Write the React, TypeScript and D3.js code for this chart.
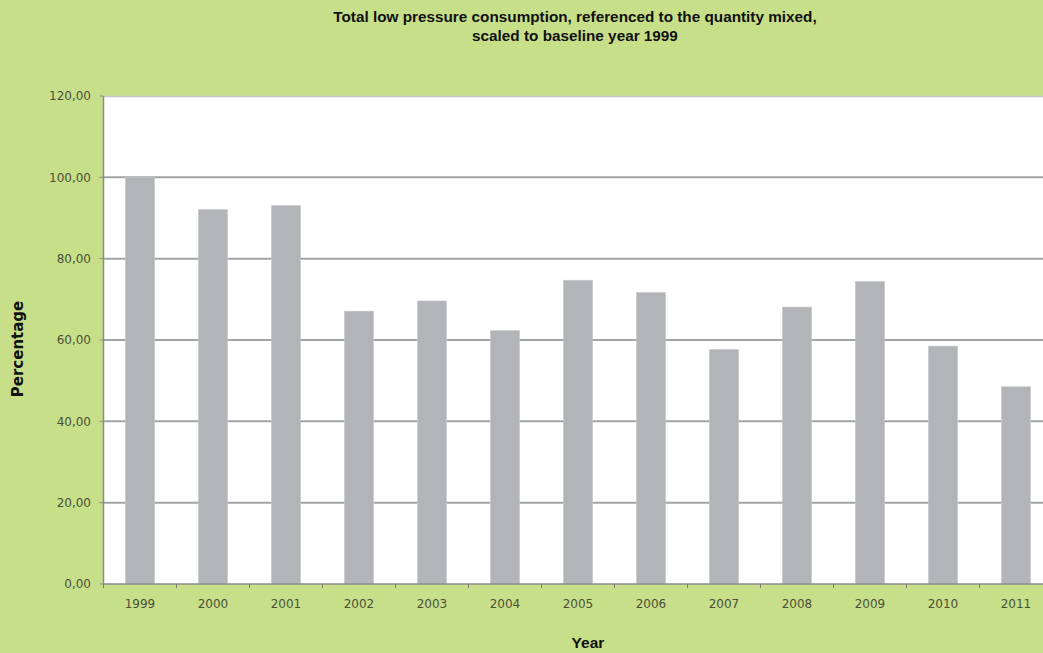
import React from "react";
import * as d3 from "d3";

// Years on the category axis
const years: string[] = [
  "1999", "2000", "2001", "2002", "2003", "2004", "2005",
  "2006", "2007", "2008", "2009", "2010", "2011",
];

// Consumption relative to 1999 (percent)
const percentages: number[] = [
  100.0, 92.1, 93.1, 67.1, 69.6, 62.3, 74.7,
  71.7, 57.7, 68.1, 74.4, 58.5, 48.5,
];

// Value-axis ticks
const yTicks: number[] = [0, 20, 40, 60, 80, 100, 120];

const titleLines: string[] = [
  "Total low pressure consumption, referenced to the quantity mixed,",
  "scaled to baseline year 1999",
];

const W = 1043;
const H = 653;
const BG = "#c8df8a";
const BAR = "#b3b4b8";
const GRID = "#a3a4a6";
const LABEL = "#4b5038";

const left = 103.5;
const top = 96;
const bottom = 584;
const step = 73;
const right = left + step * years.length;

const fmt = (v: number) => v.toFixed(2).replace(".", ",");

export default function App() {
  const x = d3
    .scaleBand<string>()
    .domain(years)
    .range([left, right])
    .paddingInner(0.6)
    .paddingOuter(0.3);
  const y = d3.scaleLinear().domain([0, 120]).range([bottom, top]);
  const font = "'DejaVu Sans', sans-serif";
  const boldFont = "'Liberation Sans', Arial, sans-serif";

  return (
    <svg
      width={W}
      height={H}
      style={{ position: "absolute", left: 0, top: 0, display: "block" }}
    >
      <rect x={0} y={0} width={W} height={H} fill={BG} />
      {/* plot area */}
      <rect x={left} y={top} width={right - left} height={bottom - top} fill="#ffffff" />
      <line x1={left} x2={right} y1={top + 0.5} y2={top + 0.5} stroke="#c4c5c7" strokeWidth={1.5} />

      {/* gridlines */}
      {yTicks
        .filter((t) => t > 0 && t < 120)
        .map((t) => (
          <line
            key={"g" + t}
            x1={left}
            x2={right}
            y1={y(t)}
            y2={y(t)}
            stroke={GRID}
            strokeWidth={2}
          />
        ))}

      {/* bars */}
      {years.map((yr, i) => (
        <rect
          key={yr}
          x={x(yr)}
          y={y(percentages[i])}
          width={x.bandwidth()}
          height={bottom - y(percentages[i])}
          fill={BAR}
          stroke="#c9cacc"
          strokeWidth={0.6}
        />
      ))}

      {/* value axis */}
      <line x1={left} x2={left} y1={top} y2={bottom} stroke="#8a8b8c" strokeWidth={1.5} />
      {yTicks.map((t) => (
        <g key={"y" + t}>
          <line x1={left - 4} x2={left} y1={y(t)} y2={y(t)} stroke="#8a8b8c" strokeWidth={1} />
          <text
            x={91}
            y={y(t)}
            dy="0.35em"
            textAnchor="end"
            fontFamily={font}
            fontSize={12}
            fill={LABEL}
          >
            {fmt(t)}
          </text>
        </g>
      ))}

      {/* category axis */}
      <line x1={left} x2={right} y1={bottom} y2={bottom} stroke="#8a8b8c" strokeWidth={1.5} />
      {d3.range(years.length + 1).map((k) => (
        <line
          key={"xt" + k}
          x1={left + k * step}
          x2={left + k * step}
          y1={bottom}
          y2={bottom + 4}
          stroke="#7a7b70"
          strokeWidth={1}
        />
      ))}
      {years.map((yr) => (
        <text
          key={"xl" + yr}
          x={(x(yr) as number) + x.bandwidth() / 2}
          y={608}
          textAnchor="middle"
          fontFamily={font}
          fontSize={12}
          fill={LABEL}
        >
          {yr}
        </text>
      ))}

      {/* titles */}
      {titleLines.map((line, i) => (
        <text
          key={"t" + i}
          x={575}
          y={22 + i * 19}
          textAnchor="middle"
          fontFamily={boldFont}
          fontWeight="bold"
          fontSize={15.3}
          fill="#111"
        >
          {line}
        </text>
      ))}
      <text
        x={588}
        y={648}
        textAnchor="middle"
        fontFamily={boldFont}
        fontWeight="bold"
        fontSize={15.5}
        fill="#111"
      >
        Year
      </text>
      <text
        transform="translate(23,349) rotate(-90)"
        textAnchor="middle"
        fontFamily="'DejaVu Sans', sans-serif"
        fontWeight="bold"
        fontSize={15}
        fill="#111"
      >
        Percentage
      </text>
    </svg>
  );
}
